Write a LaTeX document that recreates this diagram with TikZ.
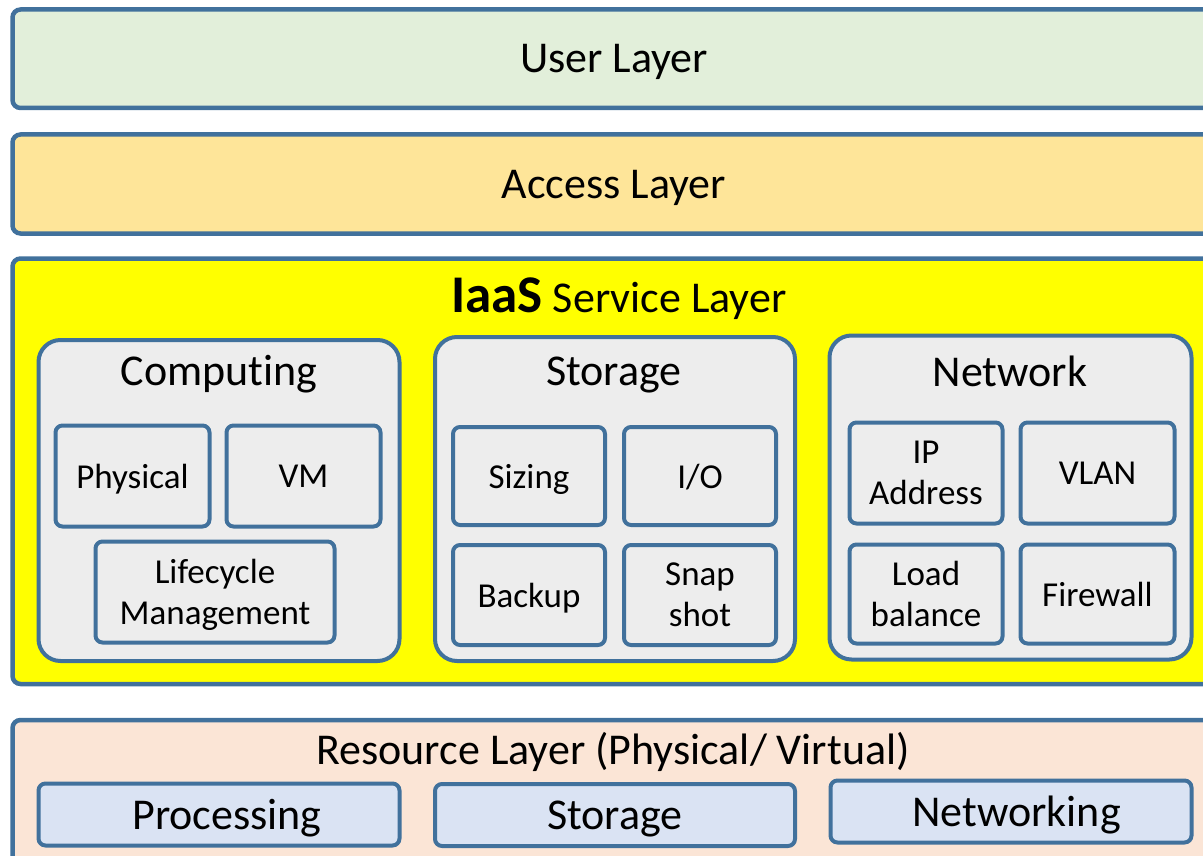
\documentclass[tikz,border=0pt]{standalone}
\usepackage{fontspec}
\setmainfont{Carlito}[Ligatures=NoCommon]
\definecolor{bordblue}{RGB}{65,113,156}
\definecolor{userfill}{RGB}{226,239,218}
\definecolor{accessfill}{RGB}{254,229,153}
\definecolor{iaasfill}{RGB}{255,255,0}
\definecolor{resfill}{RGB}{251,229,214}
\definecolor{greyfill}{RGB}{237,237,237}
\definecolor{bluefill}{RGB}{218,227,243}
\tikzset{
  layer/.style={draw=bordblue, line width=4.5pt, rounded corners=8pt, inner sep=0pt, outer sep=0pt, minimum width=1203pt, text depth=0pt, font=\fontsize{44}{51}\selectfont},
  group/.style={draw=bordblue, fill=greyfill, line width=4pt, rounded corners=22pt, inner sep=0pt, outer sep=0pt},
  item/.style={draw=bordblue, fill=greyfill, line width=4pt, rounded corners=7pt, inner sep=0pt, outer sep=0pt, align=center, text depth=0pt, font=\fontsize{35}{41}\selectfont},
  resitem/.style={draw=bordblue, fill=bluefill, line width=4pt, rounded corners=7pt, inner sep=0pt, outer sep=0pt, minimum width=361pt, minimum height=62pt, text depth=0pt, font=\fontsize{44}{51}\selectfont},
  title/.style={inner sep=0pt, font=\fontsize{44}{51}\selectfont},
}
\begin{document}
\begin{tikzpicture}[x=1pt,y=-1pt]
\useasboundingbox (0,0) rectangle (1203,856);
\clip (0,0) rectangle (1203,856);
\fill[white] (0,0) rectangle (1203,856);
% layers
\node[layer, fill=userfill, minimum height=98.5pt] (user) at (614,58.75) {User Layer};
\node[layer, fill=accessfill, minimum height=99pt] (access) at (614,184) {Access Layer};
\node[layer, fill=iaasfill, minimum height=425.5pt] (iaas) at (614,471.25) {};
\node[layer, fill=resfill, minimum height=160pt] (res) at (614,800) {};
% titles
\node[title] (iaast) at (619,299) {{\fontsize{53}{60}\selectfont\bfseries IaaS} Service Layer};
\node[title] (rest) at (613,752) {Resource Layer (Physical/ Virtual)};
% groups
\node[group, minimum width=361pt, minimum height=321pt] (comp) at (219,500.5) {};
\node[group, minimum width=360pt, minimum height=324pt] (stor) at (615,499) {};
\node[group, minimum width=362pt, minimum height=324pt] (net) at (1010.5,497.5) {};
\node[title] (compt) at (219,374) {Computing};
\node[title] (stort) at (614,375) {Storage};
\node[title] (nett) at (1010,371) {Network};
% computing items
\node[item, minimum width=154pt, minimum height=101pt] (phys) at (132.5,476) {Physical};
\node[item, minimum width=154pt, minimum height=101pt] (vm) at (303.5,476) {VM};
\node[item, minimum width=239pt, minimum height=101pt] (life) at (215,592) {Lifecycle\\Management};
% storage items
\node[item, minimum width=152pt, minimum height=98pt] (sizing) at (529,476) {Sizing};
\node[item, minimum width=152pt, minimum height=98pt] (io) at (700,476) {I/O};
\node[item, minimum width=152pt, minimum height=100pt] (backup) at (529,595) {Backup};
\node[item, minimum width=152pt, minimum height=100pt] (snap) at (700,595) {Snap\\shot};
% network items
\node[item, minimum width=153pt, minimum height=101pt] (ip) at (926,473) {IP\\Address};
\node[item, minimum width=154pt, minimum height=101pt] (vlan) at (1097.5,473) {VLAN};
\node[item, minimum width=153pt, minimum height=99pt] (lb) at (926,594) {Load\\balance};
\node[item, minimum width=154pt, minimum height=99pt] (fw) at (1097.5,594) {Firewall};
% resource items
\node[resitem] (proc) at (219,814.5) {\hspace*{16pt}Processing};
\node[resitem, minimum width=360pt] (rstor) at (615,815) {Storage};
\node[resitem] (rnet) at (1011,811.5) {\hspace*{11pt}Networking};
\end{tikzpicture}
\end{document}
